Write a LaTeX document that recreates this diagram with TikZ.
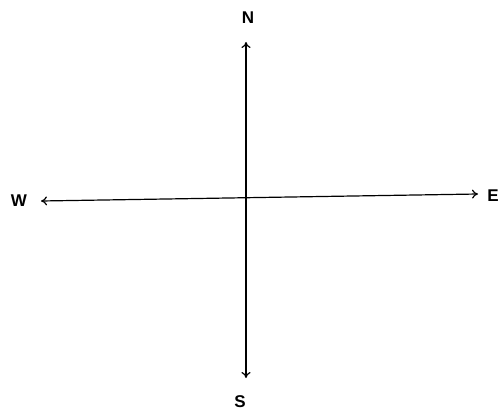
\documentclass[tikz,border=0pt]{standalone}
\usepackage{fontspec}
\setmainfont{Liberation Sans}
\usetikzlibrary{arrows.meta}
\begin{document}
\begin{tikzpicture}[x=1pt,y=-1pt,
  dirlabel/.style={font=\fontsize{17}{20}\selectfont\bfseries, inner sep=0pt},
  axis/.style={line width=1.2pt, {To[length=6pt,width=9pt]}-{To[length=6pt,width=9pt]}}]
\useasboundingbox (0,0) rectangle (502,414);
\fill[white] (0,0) rectangle (502,414);
\coordinate (ntip) at (246,42);
\coordinate (stip) at (246,378);
\coordinate (wtip) at (41,201);
\coordinate (etip) at (478,194);
\node[dirlabel] (N) at (248,18) {N};
\node[dirlabel] (S) at (240,402) {S};
\node[dirlabel] (W) at (19,201) {W};
\node[dirlabel] (E) at (493,196) {E};
\draw[axis] (stip) -- (ntip);
\draw[axis] (wtip) -- (etip);
\end{tikzpicture}
\end{document}
